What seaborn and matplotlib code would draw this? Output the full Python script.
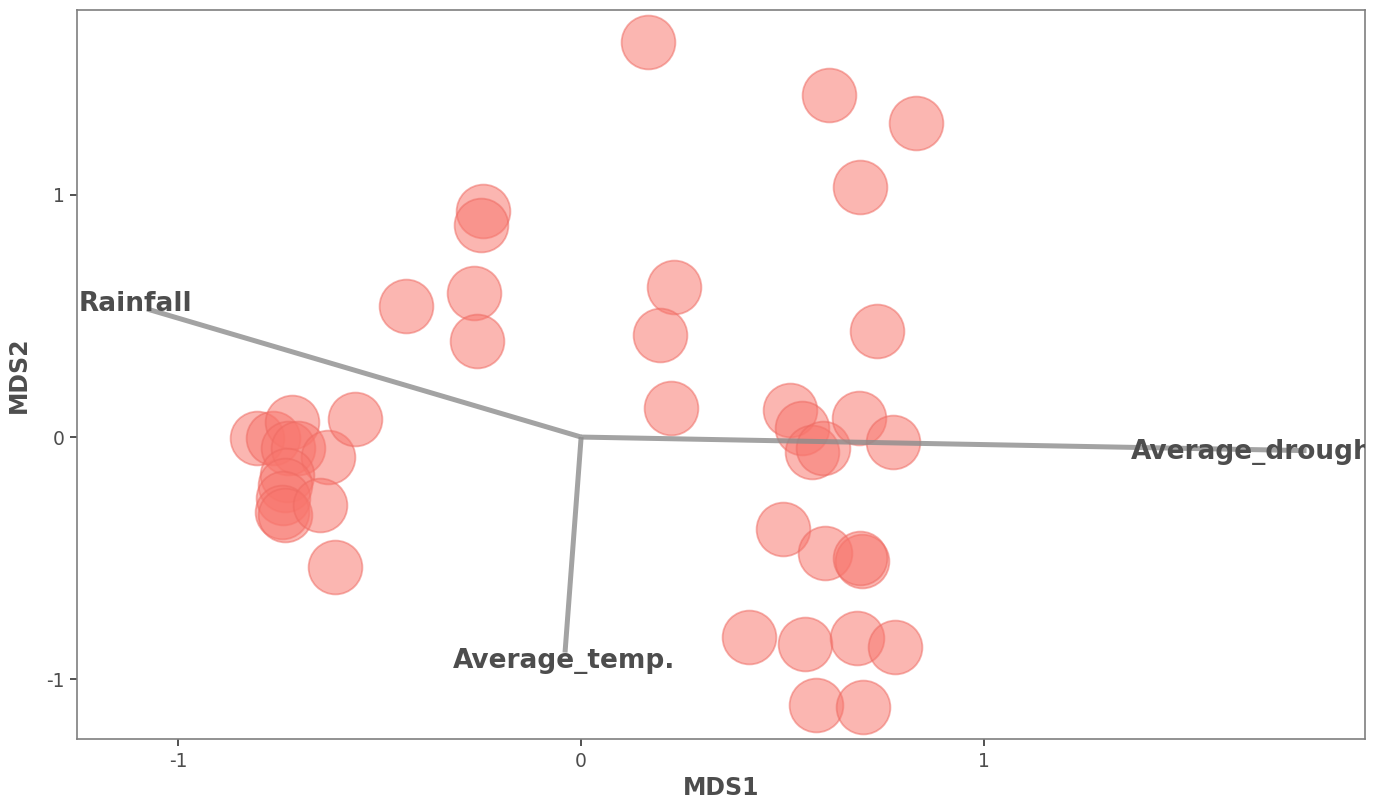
import matplotlib
matplotlib.use("Agg")
import matplotlib.pyplot as plt
import seaborn as sns
import pandas as pd

# Site scores from the NMDS ordination
mds1 = [0.166, 0.615, 0.831, 0.692, -0.243, -0.248, -0.266, -0.258, -0.434,
        0.231, 0.196, 0.223, 0.734,
        0.519, 0.548, 0.573, 0.600, 0.690, 0.774,
        0.501, 0.605, 0.697, 0.692, 0.417, 0.556, 0.685, 0.779, 0.583, 0.700,
        -0.804, -0.764, -0.717, -0.727, -0.702, -0.628, -0.730, -0.734, -0.739,
        -0.742, -0.734, -0.648, -0.561, -0.610]
mds2 = [1.632, 1.413, 1.298, 1.033, 0.934, 0.876, 0.595, 0.397, 0.541,
        0.620, 0.421, 0.120, 0.438,
        0.112, 0.037, -0.062, -0.045, 0.079, -0.021,
        -0.380, -0.479, -0.512, -0.500, -0.826, -0.855, -0.831, -0.868, -1.107, -1.116,
        -0.004, -0.004, 0.062, -0.045, -0.045, -0.083, -0.157, -0.198, -0.252,
        -0.310, -0.322, -0.281, 0.074, -0.537]

# Environmental vectors (envfit arrows) and their label positions
env_names = ["Rainfall", "Average_temp.", "Average_drought"]
env_x = [-1.077, -0.040, 1.800]
env_y = [0.529, -0.890, -0.056]
label_x = [-1.106, -0.042, 1.680]
label_y = [0.550, -0.925, -0.062]

sites = pd.DataFrame({"MDS1": mds1, "MDS2": mds2})

sns.set_theme(style="white")
plt.rcParams["font.family"] = ["DejaVu Sans"]

fig = plt.figure(figsize=(13.82, 8.0), dpi=100)
ax = fig.add_axes([0.0557, 0.076, 0.932, 0.9115])

sns.scatterplot(data=sites, x="MDS1", y="MDS2", ax=ax, s=1500,
                color="#F8766D", alpha=0.53, edgecolor="#EE6A62",
                linewidth=1.3, zorder=2)

for ex, ey in zip(env_x, env_y):
    ax.plot([0, ex], [0, ey], color="#8C8C8C", alpha=0.8, lw=3.6,
            solid_capstyle="butt", zorder=3)

for name, lx, ly in zip(env_names, label_x, label_y):
    ax.text(lx, ly, name, ha="center", va="center", fontsize=19,
            fontweight="bold", color="#4D4D4D", zorder=4, clip_on=True)

ax.set_xlim(-1.251, 1.945)
ax.set_ylim(-1.248, 1.764)
ax.set_xticks([-1, 0, 1])
ax.set_yticks([-1, 0, 1])
ax.set_xticklabels(["-1", "0", "1"])
ax.set_yticklabels(["-1", "0", "1"])
ax.tick_params(axis="both", which="both", length=5, width=1.2,
               color="#333333", labelcolor="#4D4D4D", labelsize=13.5,
               direction="out", left=True, bottom=True, pad=4)
for sp in ax.spines.values():
    sp.set_color("#7F7F7F")
    sp.set_linewidth(1.2)
ax.grid(False)

ax.set_xlabel("MDS1", fontsize=17, fontweight="bold", color="#4D4D4D", labelpad=4)
ax.set_ylabel("MDS2", fontsize=17, fontweight="bold", color="#4D4D4D", labelpad=11)

fig.savefig("out.png", dpi=100, facecolor="white")
